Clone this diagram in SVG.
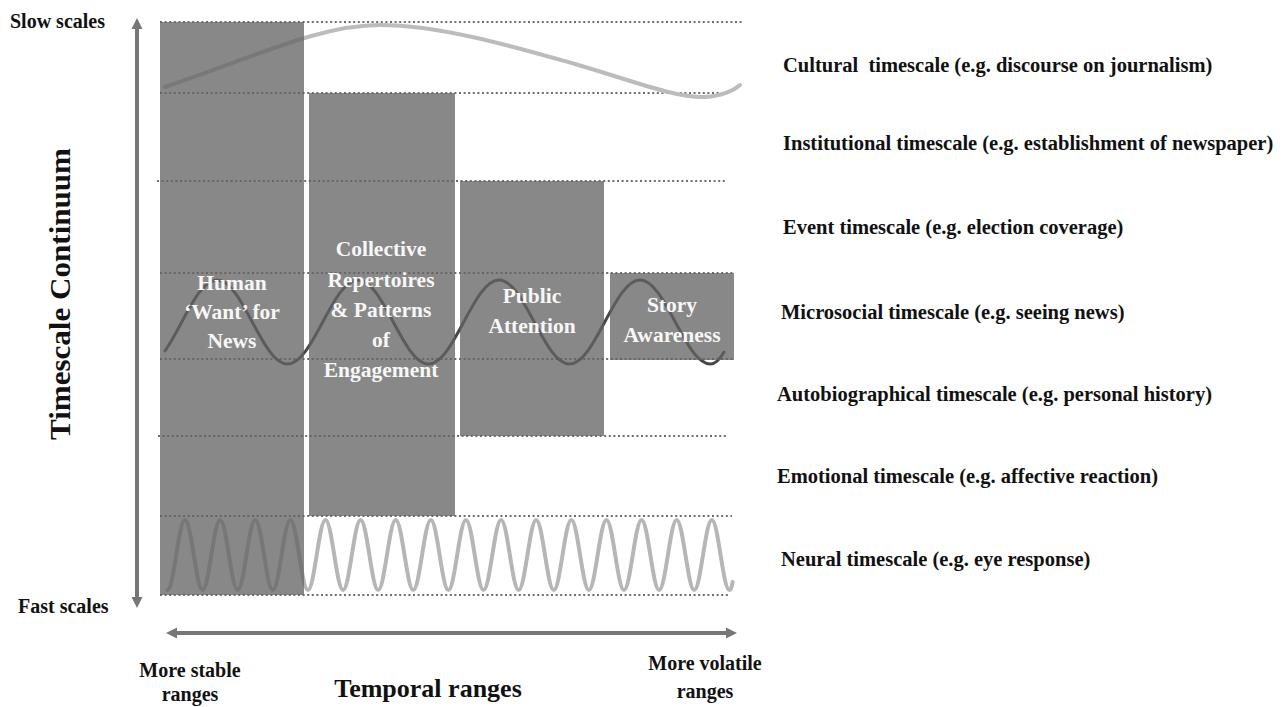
<svg xmlns="http://www.w3.org/2000/svg" width="1283" height="707" viewBox="0 0 1283 707">
<style>
text{font-family:"Liberation Serif","Times New Roman",serif;font-weight:bold;}
.lbl{font-size:20.5px;fill:#111;}
.ax{font-size:20px;fill:#111;}
.box{fill:#626262;fill-opacity:0.76;}
.bt{font-size:21.5px;fill:#f7f7f7;text-anchor:middle;}
.dot{stroke:#6e6e6e;stroke-width:2;stroke-dasharray:2 2.6;fill:none;}
.arr{stroke:#777;stroke-width:4;fill:none;}
</style>
<defs>
<marker id="ah" markerUnits="userSpaceOnUse" markerWidth="12" markerHeight="12" viewBox="0 0 12 12" refX="0" refY="6" orient="auto-start-reverse">
<path d="M0,0.5 L11,6 L0,11.5 z" fill="#777"/>
</marker>
</defs>
<rect width="1283" height="707" fill="#fff"/>

<g id="gridlines">
<line class="dot" x1="160" y1="22" x2="742" y2="22"/>
<line class="dot" x1="160" y1="93" x2="728" y2="93"/>
<line class="dot" x1="157" y1="181" x2="725" y2="181"/>
<line class="dot" x1="160" y1="273" x2="733" y2="273"/>
<line class="dot" x1="160" y1="359" x2="733" y2="359"/>
<line class="dot" x1="158" y1="436" x2="727" y2="436"/>
<line class="dot" x1="160" y1="516" x2="732" y2="516"/>
<line class="dot" x1="160" y1="595" x2="729" y2="595"/>
</g>

<g id="waves">
<path id="wave-cultural" d="M165,87 C260,55 320,25 380,25 C440,25 515,47 575,64 C630,80 675,98 705,97 C720,96 732,92 740,85" stroke="#bcbcbc" stroke-width="4" fill="none" stroke-linecap="round"/>
<path id="wave-microsocial" d="M165,351 C171,342 176,333 181.75,322 c 11.5,-21.5 22.5,-42 35.25,-42 c 12.75,0 23.75,20.5 35.25,42 c 11.5,21.5 22.5,42 35.25,42 c 12.75,0 23.75,-20.5 35.25,-42 c 11.5,-21.5 22.5,-42 35.25,-42 c 12.75,0 23.75,20.5 35.25,42 c 11.5,21.5 22.5,42 35.25,42 c 12.75,0 23.75,-20.5 35.25,-42 c 11.5,-21.5 22.5,-42 35.25,-42 c 12.75,0 23.75,20.5 35.25,42 c 11.5,21.5 22.5,42 35.25,42 c 12.75,0 23.75,-20.5 35.25,-42 c 11.5,-21.5 22.5,-42 35.25,-42 c 12.75,0 23.75,20.5 35.25,42 c 11.5,21.5 22.5,42 35.25,42 c 4.5,0 9.5,-5 13.5,-12" stroke="#474747" stroke-width="3" fill="none" stroke-linecap="round"/>
<path id="wave-neural" d="M167.44,590
c 3.18,0 5.92,-17.07 8.78,-35 c 2.86,-17.93 5.6,-35 8.78,-35 c 3.18,0 5.92,17.07 8.78,35 c 2.86,17.93 5.6,35 8.78,35
c 3.18,0 5.92,-17.07 8.78,-35 c 2.86,-17.93 5.6,-35 8.78,-35 c 3.18,0 5.92,17.07 8.78,35 c 2.86,17.93 5.6,35 8.78,35
c 3.18,0 5.92,-17.07 8.78,-35 c 2.86,-17.93 5.6,-35 8.78,-35 c 3.18,0 5.92,17.07 8.78,35 c 2.86,17.93 5.6,35 8.78,35
c 3.18,0 5.92,-17.07 8.78,-35 c 2.86,-17.93 5.6,-35 8.78,-35 c 3.18,0 5.92,17.07 8.78,35 c 2.86,17.93 5.6,35 8.78,35
c 3.18,0 5.92,-17.07 8.78,-35 c 2.86,-17.93 5.6,-35 8.78,-35 c 3.18,0 5.92,17.07 8.78,35 c 2.86,17.93 5.6,35 8.78,35
c 3.18,0 5.92,-17.07 8.78,-35 c 2.86,-17.93 5.6,-35 8.78,-35 c 3.18,0 5.92,17.07 8.78,35 c 2.86,17.93 5.6,35 8.78,35
c 3.18,0 5.92,-17.07 8.78,-35 c 2.86,-17.93 5.6,-35 8.78,-35 c 3.18,0 5.92,17.07 8.78,35 c 2.86,17.93 5.6,35 8.78,35
c 3.18,0 5.92,-17.07 8.78,-35 c 2.86,-17.93 5.6,-35 8.78,-35 c 3.18,0 5.92,17.07 8.78,35 c 2.86,17.93 5.6,35 8.78,35
c 3.18,0 5.92,-17.07 8.78,-35 c 2.86,-17.93 5.6,-35 8.78,-35 c 3.18,0 5.92,17.07 8.78,35 c 2.86,17.93 5.6,35 8.78,35
c 3.18,0 5.92,-17.07 8.78,-35 c 2.86,-17.93 5.6,-35 8.78,-35 c 3.18,0 5.92,17.07 8.78,35 c 2.86,17.93 5.6,35 8.78,35
c 3.18,0 5.92,-17.07 8.78,-35 c 2.86,-17.93 5.6,-35 8.78,-35 c 3.18,0 5.92,17.07 8.78,35 c 2.86,17.93 5.6,35 8.78,35
c 3.18,0 5.92,-17.07 8.78,-35 c 2.86,-17.93 5.6,-35 8.78,-35 c 3.18,0 5.92,17.07 8.78,35 c 2.86,17.93 5.6,35 8.78,35
c 3.18,0 5.92,-17.07 8.78,-35 c 2.86,-17.93 5.6,-35 8.78,-35 c 3.18,0 5.92,17.07 8.78,35 c 2.86,17.93 5.6,35 8.78,35
c 3.18,0 5.92,-17.07 8.78,-35 c 2.86,-17.93 5.6,-35 8.78,-35 c 3.18,0 5.92,17.07 8.78,35 c 2.86,17.93 5.6,35 8.78,35
c 3.18,0 5.92,-17.07 8.78,-35 c 2.86,-17.93 5.6,-35 8.78,-35 c 3.18,0 5.92,17.07 8.78,35 c 2.86,17.93 5.6,35 8.78,35
c 3.18,0 5.92,-17.07 8.78,-35 c 2.86,-17.93 5.6,-35 8.78,-35 c 3.18,0 5.92,17.07 8.78,35 c 2.86,17.93 5.6,35 8.78,35
c 1.5,0 2.6,-3 3.2,-8" stroke="#b6b6b6" stroke-width="4" fill="none" stroke-linecap="round"/>
</g>

<g id="node-human">
<rect class="box" x="160" y="22" width="144" height="573"/>
<text class="bt" x="232" y="290">Human</text>
<text class="bt" x="232" y="319">‘Want’ for</text>
<text class="bt" x="232" y="348">News</text>
</g>
<g id="node-collective">
<rect class="box" x="309" y="93" width="146" height="423"/>
<text class="bt" x="381" y="256">Collective</text>
<text class="bt" x="381" y="286.5">Repertoires</text>
<text class="bt" x="381" y="316.5">&amp; Patterns</text>
<text class="bt" x="381" y="347">of</text>
<text class="bt" x="381" y="377">Engagement</text>
</g>
<g id="node-public">
<rect class="box" x="460" y="181" width="144" height="255"/>
<text class="bt" x="532" y="303">Public</text>
<text class="bt" x="532" y="333">Attention</text>
</g>
<g id="node-story">
<rect class="box" x="610" y="273" width="124" height="87"/>
<text class="bt" x="672" y="312">Story</text>
<text class="bt" x="672" y="342">Awareness</text>
</g>

<g id="connectors">
<line class="arr" x1="137" y1="29" x2="137" y2="597" marker-start="url(#ah)" marker-end="url(#ah)"/>
<line class="arr" x1="177" y1="633" x2="726" y2="633" marker-start="url(#ah)" marker-end="url(#ah)"/>
</g>

<g id="axis-labels">
<text class="ax" x="10" y="28">Slow scales</text>
<text class="ax" x="18" y="613">Fast scales</text>
<text x="70" y="294" font-size="29.5" fill="#111" text-anchor="middle" transform="rotate(-90 70 294)" textLength="292" lengthAdjust="spacingAndGlyphs">Timescale Continuum</text>
<text class="ax" x="190" y="677" text-anchor="middle">More stable</text>
<text class="ax" x="190" y="701" text-anchor="middle">ranges</text>
<text x="428" y="697" font-size="26" fill="#111" text-anchor="middle">Temporal ranges</text>
<text class="ax" x="705" y="670" text-anchor="middle">More volatile</text>
<text class="ax" x="705" y="698" text-anchor="middle">ranges</text>
</g>

<g id="timescale-labels">
<text class="lbl" x="783" y="72" xml:space="preserve">Cultural  timescale (e.g. discourse on journalism)</text>
<text class="lbl" x="783" y="150">Institutional timescale (e.g. establishment of newspaper)</text>
<text class="lbl" x="783" y="234">Event timescale (e.g. election coverage)</text>
<text class="lbl" x="781" y="319">Microsocial timescale (e.g. seeing news)</text>
<text class="lbl" x="777" y="401">Autobiographical timescale (e.g. personal history)</text>
<text class="lbl" x="777" y="483">Emotional timescale (e.g. affective reaction)</text>
<text class="lbl" x="781" y="566">Neural timescale (e.g. eye response)</text>
</g>
</svg>
